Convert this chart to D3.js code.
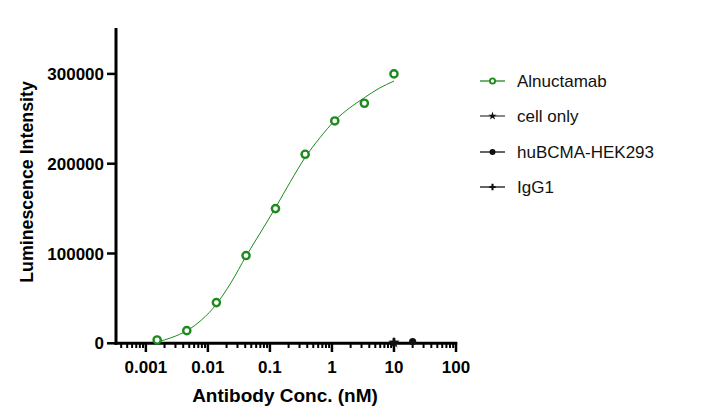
<!DOCTYPE html>
<html><head><meta charset="utf-8">
<script src="https://cdn.jsdelivr.net/npm/d3@7"></script>
<style>body{margin:0;background:#fff}svg{display:block;font-family:"Liberation Sans",Arial,sans-serif}</style>
</head><body><svg id="c" width="706" height="417"></svg>
<script>
// Data
const concAln = [0.00152, 0.00457, 0.0137, 0.0412, 0.123, 0.370, 1.11, 3.33, 10];
const lumAln  = [3700, 14100, 45300, 97700, 150000, 210500, 247600, 267300, 300000];
// fitted curve
const curveConc = [0.00152, 0.00263, 0.00457, 0.0079, 0.0137, 0.0238, 0.0412, 0.0714, 0.123, 0.214, 0.370, 0.642, 1.11, 1.92, 3.33, 5.77, 10];
const curveLum  = [1500, 6500, 14000, 26000, 43500, 68000, 97000, 124000, 151000, 180000, 207000, 229000, 248000, 262000, 273500, 284000, 292000];
const concCellOnly = [10], lumCellOnly = [800];
const concHEK = [20], lumHEK = [2000];
const concIgG = [10], lumIgG = [1200];
const xTicks = [0.001, 0.01, 0.1, 1, 10, 100];
const xTickLabels = ["0.001", "0.01", "0.1", "1", "10", "100"];
const yTicks = [0, 100000, 200000, 300000];
const legendNames = ["Alnuctamab", "cell only", "huBCMA-HEK293", "IgG1"];

const svg = d3.select("#c");
const green = "#1E8A1E";
const x = d3.scaleLog().domain([0.00033, 100]).range([116, 456]);
const y = d3.scaleLinear().domain([0, 350000]).range([343.3, 29]);

// minor ticks
const minor = [];
for (let e = -4; e < 2; e++) for (let m = 2; m <= 9; m++) { const v = m * Math.pow(10, e); if (v >= 0.00033 && v <= 100) minor.push(v); }

const gx = svg.append("g");
gx.selectAll("line.minor").data(minor).join("line")
  .attr("x1", d => x(d)).attr("x2", d => x(d)).attr("y1", 343).attr("y2", 348)
  .attr("stroke", "#000").attr("stroke-width", 2);
gx.selectAll("line.major").data(xTicks).join("line")
  .attr("x1", d => x(d)).attr("x2", d => x(d)).attr("y1", 343).attr("y2", 352)
  .attr("stroke", "#000").attr("stroke-width", 2.5);
gx.append("line").attr("x1", 114.5).attr("x2", 457.3).attr("y1", 343.3).attr("y2", 343.3)
  .attr("stroke", "#000").attr("stroke-width", 3);
gx.selectAll("text").data(xTicks).join("text")
  .attr("x", d => x(d)).attr("y", 373).attr("text-anchor", "middle")
  .attr("font-size", 17).attr("font-weight", "bold").text((d, i) => xTickLabels[i]);

const gy = svg.append("g");
gy.append("line").attr("x1", 116).attr("x2", 116).attr("y1", 28).attr("y2", 344.8)
  .attr("stroke", "#000").attr("stroke-width", 3);
gy.selectAll("line.t").data(yTicks).join("line")
  .attr("x1", 107).attr("x2", 116).attr("y1", d => y(d)).attr("y2", d => y(d))
  .attr("stroke", "#000").attr("stroke-width", 2.5);
gy.selectAll("text").data(yTicks).join("text")
  .attr("x", 104).attr("y", d => y(d) + 6).attr("text-anchor", "end")
  .attr("font-size", 17).attr("font-weight", "bold").text(d => d);

svg.append("text").attr("transform", "translate(33,182) rotate(-90)").attr("text-anchor", "middle")
  .attr("font-size", 17.8).attr("font-weight", "bold").text("Luminescence Intensity");
svg.append("text").attr("x", 285).attr("y", 401.5).attr("text-anchor", "middle")
  .attr("font-size", 19).attr("font-weight", "bold").text("Antibody Conc. (nM)");

// curve
const line = d3.line().x(d => x(d[0])).y(d => y(d[1])).curve(d3.curveMonotoneX);
svg.append("path").datum(curveConc.map((c, i) => [c, curveLum[i]]))
  .attr("d", line).attr("fill", "none").attr("stroke", green).attr("stroke-width", 1);

svg.selectAll("circle.aln").data(concAln.map((c, i) => [c, lumAln[i]])).join("circle")
  .attr("cx", d => x(d[0])).attr("cy", d => y(d[1])).attr("r", 3.6)
  .attr("fill", "#fff").attr("stroke", green).attr("stroke-width", 2.4);

// other series markers
const star = d3.symbol().type(d3.symbolStar).size(40);
const plus = d3.symbol().type(d3.symbolCross).size(40);
svg.selectAll("path.co").data(concCellOnly.map((c, i) => [c, lumCellOnly[i]])).join("path")
  .attr("transform", d => `translate(${x(d[0])},${y(d[1])})`).attr("d", star()).attr("fill", "#111");
svg.selectAll("path.ig").data(concIgG.map((c, i) => [c, lumIgG[i]])).join("path")
  .attr("transform", d => `translate(${x(d[0])},${y(d[1])})`).attr("d", plus()).attr("fill", "#111");
svg.selectAll("circle.hek").data(concHEK.map((c, i) => [c, lumHEK[i]])).join("circle")
  .attr("cx", d => x(d[0])).attr("cy", d => y(d[1])).attr("r", 3.6).attr("fill", "#111");

// legend
const lg = svg.append("g");
const ly = [81, 116, 152, 187];
legendNames.forEach((n, i) => {
  const g = lg.append("g").attr("transform", `translate(0,${ly[i]})`);
  const col = i === 0 ? green : (i === 1 ? "#444" : "#111");
  g.append("line").attr("x1", 480).attr("x2", 505).attr("y1", 0).attr("y2", 0).attr("stroke", col).attr("stroke-width", 1.3);
  if (i === 0) g.append("circle").attr("cx", 492.5).attr("cy", 0).attr("r", 2.6).attr("fill", "#fff").attr("stroke", green).attr("stroke-width", 1.8);
  if (i === 1) g.append("path").attr("transform", "translate(492.5,0)").attr("d", d3.symbol().type(d3.symbolStar).size(22)()).attr("fill", "#111");
  if (i === 2) g.append("circle").attr("cx", 492.5).attr("cy", 0).attr("r", 3).attr("fill", "#111");
  if (i === 3) g.append("path").attr("transform", "translate(492.5,0)").attr("d", d3.symbol().type(d3.symbolCross).size(22)()).attr("fill", "#111");
  g.append("text").attr("x", 517).attr("y", 6).attr("font-size", 17).attr("fill", "#111").text(n);
});
</script></body></html>
